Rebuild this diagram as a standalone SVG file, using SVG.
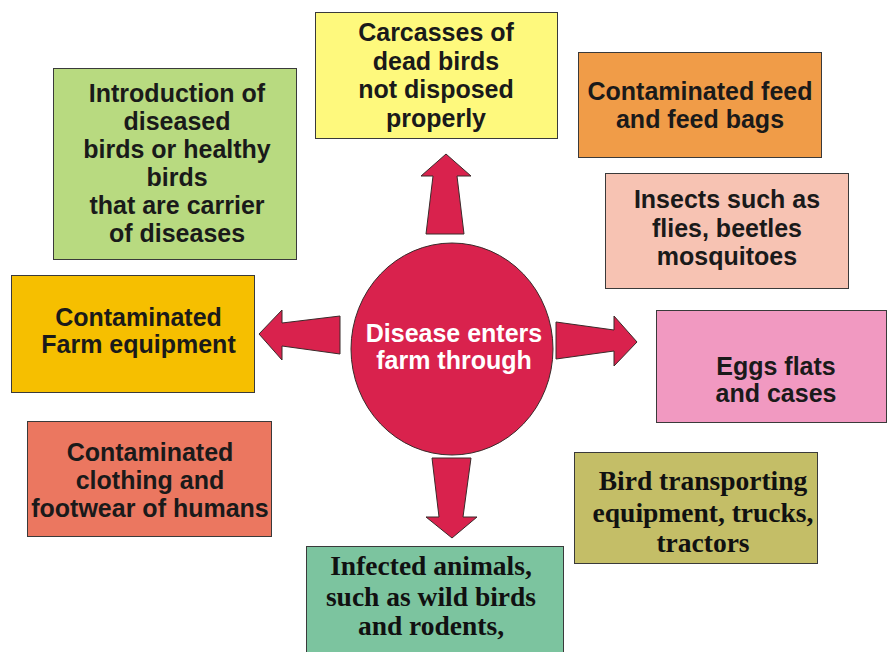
<svg xmlns="http://www.w3.org/2000/svg" width="887" height="652" viewBox="0 0 887 652">
<style>
.box{stroke:#3a3a3a;stroke-width:1}
.s{font-family:"Liberation Sans",Arial,sans-serif;font-weight:bold;font-size:25px;fill:#1a1a1a;text-anchor:middle}
.t{font-family:"Liberation Serif","Times New Roman",serif;font-weight:bold;font-size:27.5px;fill:#111;text-anchor:middle}
.w{fill:#fff}
.arrow{fill:#d9224d;stroke:#3a2a2a;stroke-width:1;stroke-linejoin:miter}
</style>
<rect width="887" height="652" fill="#fff"/>
<g id="carcasses">
<rect class="box" x="315.5" y="12.5" width="242" height="126" fill="#fef97d"/>
<text class="s" x="436" y="41">Carcasses of</text>
<text class="s" x="436" y="69.5">dead birds</text>
<text class="s" x="436" y="98">not disposed</text>
<text class="s" x="436" y="126.5">properly</text>
</g>
<g id="introduction">
<rect class="box" x="53.5" y="68.5" width="243" height="191" fill="#b8da80"/>
<text class="s" x="177" y="101.7">Introduction of</text>
<text class="s" x="177" y="129.5">diseased</text>
<text class="s" x="177" y="157.5">birds or healthy</text>
<text class="s" x="177" y="185.5">birds</text>
<text class="s" x="177" y="214">that are carrier</text>
<text class="s" x="177" y="242">of diseases</text>
</g>
<g id="feed">
<rect class="box" x="578.5" y="52.5" width="243" height="105" fill="#f09c48"/>
<text class="s" x="700" y="100">Contaminated feed</text>
<text class="s" x="700" y="128">and feed bags</text>
</g>
<g id="insects">
<rect class="box" x="605.5" y="173.5" width="243" height="115" fill="#f7c3b3"/>
<text class="s" x="727" y="208.3">Insects such as</text>
<text class="s" x="727" y="236.7">flies, beetles</text>
<text class="s" x="727" y="265">mosquitoes</text>
</g>
<g id="farm-equipment">
<rect class="box" x="11.5" y="275.5" width="243" height="117" fill="#f6bf00"/>
<text class="s" x="138.5" y="325.7">Contaminated</text>
<text class="s" x="138.5" y="353">Farm equipment</text>
</g>
<g id="eggs">
<rect class="box" x="656.5" y="310.5" width="230" height="112" fill="#f199c1"/>
<text class="s" x="776" y="375">Eggs flats</text>
<text class="s" x="776" y="401.7">and cases</text>
</g>
<g id="clothing">
<rect class="box" x="27.5" y="421.5" width="244" height="115" fill="#eb7760"/>
<text class="s" x="150" y="461">Contaminated</text>
<text class="s" x="150" y="489">clothing and</text>
<text class="s" x="150" y="517">footwear of humans</text>
</g>
<g id="transport">
<rect class="box" x="574.5" y="452.5" width="243" height="111" fill="#c4be67"/>
<text class="t" x="703" y="490">Bird transporting</text>
<text class="t" x="703" y="521.7">equipment, trucks,</text>
<text class="t" x="703" y="551.7">tractors</text>
</g>
<g id="animals">
<rect class="box" x="306.5" y="546.5" width="257" height="110" fill="#7cc49f"/>
<text class="t" x="431" y="575">Infected animals,</text>
<text class="t" x="431" y="605.7">such as wild birds</text>
<text class="t" x="431" y="635">and rodents,</text>
</g>
<g id="connectors">
<polygon class="arrow" points="446,154 471,176 457,176 464,234 426,234 433,176 421,176"/>
<polygon class="arrow" points="259,334 282,310 282,323 340,316 340,354 282,346 282,360"/>
<polygon class="arrow" points="556,322 614,330 614,316 637,342 614,366 614,351 556,359"/>
<polygon class="arrow" points="432,458 471,458 463,517 477,517 452,538 426,517 439,517"/>
</g>
<g id="center">
<ellipse cx="452" cy="349" rx="101" ry="106" fill="#d9224d" stroke="#3a2a2a" stroke-width="1"/>
<text class="s w" x="454" y="341.7">Disease enters</text>
<text class="s w" x="454" y="369.3">farm through</text>
</g>
</svg>
